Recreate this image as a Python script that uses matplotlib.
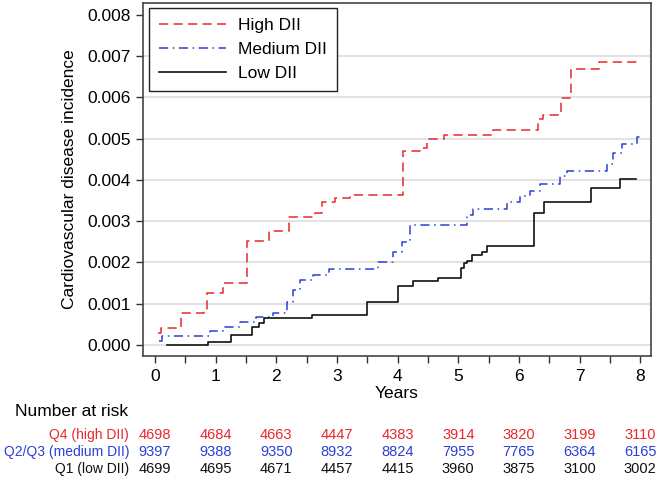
import numpy as np
import matplotlib.pyplot as plt
from matplotlib.transforms import blended_transform_factory

plt.rcParams['font.family'] = ['Liberation Sans', 'DejaVu Sans']

# step curves (time in years, cumulative incidence)
high_t = [0.05, 0.10, 0.42, 0.81, 0.85, 1.12, 1.51, 1.88, 2.21, 2.64, 2.75, 2.97,
          3.22, 4.09, 4.37, 4.48, 4.76, 5.57, 6.31, 6.40, 6.69, 6.86, 7.32, 7.99]
high_y = [0.00028, 0.00040, 0.00077, 0.00085, 0.00125, 0.00151, 0.00253, 0.00275,
          0.00311, 0.00320, 0.00347, 0.00355, 0.00364, 0.00470, 0.00478, 0.00499,
          0.00509, 0.00521, 0.00548, 0.00558, 0.00598, 0.00668, 0.00687, 0.00687]

med_t = [0.06, 0.12, 0.91, 1.12, 1.40, 1.67, 1.95, 2.17, 2.28, 2.39, 2.61, 2.86,
         3.68, 3.93, 4.07, 4.20, 5.14, 5.25, 5.80, 6.02, 6.19, 6.35, 6.68, 6.79,
         7.45, 7.56, 7.70, 7.95, 8.00]
med_y = [0.00010, 0.00022, 0.00034, 0.00044, 0.00056, 0.00067, 0.00077, 0.00105,
         0.00133, 0.00158, 0.00170, 0.00184, 0.00202, 0.00226, 0.00250, 0.00290,
         0.00315, 0.00330, 0.00347, 0.00360, 0.00373, 0.00390, 0.00410, 0.00422,
         0.00439, 0.00465, 0.00487, 0.00503, 0.00503]

low_t = [0.20, 0.88, 1.25, 1.60, 1.72, 1.79, 2.59, 3.49, 4.00, 4.26, 4.66, 5.04,
         5.09, 5.14, 5.22, 5.39, 5.48, 6.25, 6.41, 7.19, 7.66, 7.93]
low_y = [0.0, 0.00007, 0.00023, 0.00044, 0.00053, 0.00065, 0.00073, 0.00105,
         0.00143, 0.00155, 0.00163, 0.00187, 0.00198, 0.00204, 0.00218, 0.00226,
         0.00240, 0.00320, 0.00347, 0.00380, 0.00402, 0.00402]

# number at risk table
years = [0, 1, 2, 3, 4, 5, 6, 7, 8]
high_risk = [4698, 4684, 4663, 4447, 4383, 3914, 3820, 3199, 3110]
med_risk = [9397, 9388, 9350, 8932, 8824, 7955, 7765, 6364, 6165]
low_risk = [4699, 4695, 4671, 4457, 4415, 3960, 3875, 3100, 3002]

red = '#e8282c'
blue = '#2b3fd4'
black = '#111111'

fig = plt.figure(figsize=(6.61, 4.82), dpi=100)
ax = fig.add_axes([0.2163, 0.2614, 0.7687, 0.7324])

for y in np.arange(0, 0.0075, 0.001):
    ax.axhline(y, color='#dddddd', lw=1.2, zorder=0)

ax.step(high_t, high_y, where='post', color=red, lw=1.1, dashes=(6, 3.5),
        label='High DII')
ax.step(med_t, med_y, where='post', color=blue, lw=1.1, dashes=(6, 3, 1, 3),
        label='Medium DII')
ax.step(low_t, low_y, where='post', color=black, lw=1.2, label='Low DII')

ax.set_xlim(-0.2, 8.18)
ax.set_ylim(-0.00027, 0.00829)
ax.set_xticks(years)
ax.set_xticks(np.arange(0.5, 8, 1), minor=True)
ax.set_yticks(np.arange(0, 0.0081, 0.001))
ax.set_yticklabels(['%.3f' % v for v in np.arange(0, 0.0081, 0.001)])
ax.tick_params(which='both', direction='out', length=5, width=1, color='#333333',
               labelsize=12.5)
ax.tick_params(axis='x', pad=4)
for s in ax.spines.values():
    s.set_color('#444444')
    s.set_linewidth(1.2)

ax.set_xlabel('Years', fontsize=12.5, labelpad=2)
ax.set_ylabel('Cardiovascular disease incidence', fontsize=12.5, labelpad=8)

leg = ax.legend(loc='upper left', bbox_to_anchor=(0.012, 0.986), borderaxespad=0,
                fontsize=12.5, fancybox=False, framealpha=1, edgecolor='#222222',
                handlelength=3.9, handletextpad=0.7, borderpad=0.55,
                labelspacing=0.53)
leg.get_frame().set_linewidth(1.0)

# number at risk
trans = blended_transform_factory(ax.transData, fig.transFigure)
fig.text(15 / 661, 1 - 412 / 482, 'Number at risk', fontsize=12.5,
         ha='left', va='center')
rows = [('Q4 (high DII)', high_risk, red, 435),
        ('Q2/Q3 (medium DII)', med_risk, blue, 452),
        ('Q1 (low DII)', low_risk, black, 469)]
for label, vals, col, ypx in rows:
    yf = 1 - ypx / 482
    fig.text(129 / 661, yf, label, fontsize=10, color=col, ha='right', va='center')
    for t, v in zip(years, vals):
        fig.text(t, yf, str(v), fontsize=10.5, color=col, ha='center', va='center',
                 transform=trans)

fig.savefig('out.png', dpi=100)
